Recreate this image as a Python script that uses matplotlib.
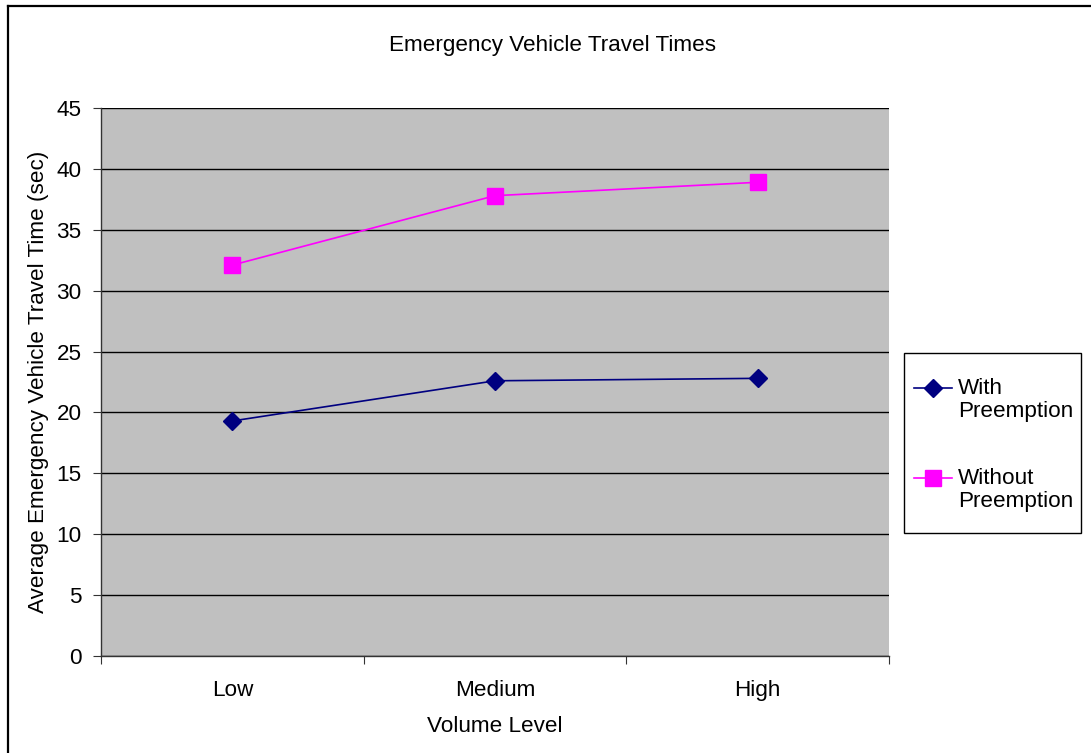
import matplotlib
matplotlib.use("Agg")
import numpy as np
import matplotlib.pyplot as plt
from matplotlib.lines import Line2D
from matplotlib.patches import Rectangle
from matplotlib.legend_handler import HandlerLine2D

categories = ["Low", "Medium", "High"]
with_preemption = [19.3, 22.6, 22.8]
without_preemption = [32.1, 37.8, 38.9]
y_ticks = [0, 5, 10, 15, 20, 25, 30, 35, 40, 45]

plt.rcParams['font.family'] = ['Liberation Sans', 'DejaVu Sans']
FS = 16.2

fig = plt.figure(figsize=(10.91, 7.53), dpi=100)
ax = fig.add_axes([101/1091, 1-656/753, 788/1091, 548/753])
ax.set_facecolor('#C0C0C0')

x = [0.5, 1.5, 2.5]
l1, = ax.plot(x, with_preemption, color='#000080', lw=1.2, marker='D', ms=9.5,
              markeredgecolor='#000080', markerfacecolor='#000080', label='With\nPreemption', zorder=3)
l2, = ax.plot(x, without_preemption, color='#FF00FF', lw=1.2, marker='s', ms=11.5,
              markeredgecolor='#FF00FF', markerfacecolor='#FF00FF', label='Without\nPreemption', zorder=3)

ax.set_xlim(0, 3)
ax.set_ylim(0, 45)
ax.set_yticks(y_ticks)
ax.set_yticklabels([str(v) for v in y_ticks], fontsize=FS)
ax.set_xticks([0, 1, 2, 3])
ax.set_xticklabels([])
ax.set_xticks(x, minor=True)
ax.set_xticklabels(categories, minor=True, fontsize=FS)
ax.tick_params(axis='x', which='minor', length=0, pad=17)
ax.tick_params(axis='x', which='major', length=6, direction='out', color='#333333')
ax.tick_params(axis='y', length=6, direction='out', color='#333333', pad=8)

ax.yaxis.grid(True, color='black', lw=1)
ax.set_axisbelow(True)
for s in ['top', 'right']:
    ax.spines[s].set_visible(False)
for s in ['left', 'bottom']:
    ax.spines[s].set_color('#333333')
    ax.spines[s].set_linewidth(1)

ax.set_xlabel("Volume Level", fontsize=FS, va='center')
ax.xaxis.set_label_coords(0.5, (656-726)/548)
ax.set_ylabel("Average Emergency Vehicle Travel Time (sec)", fontsize=FS, va='center')
ax.yaxis.set_label_coords((39-101)/788, 0.5)

fig.text(553/1091, 1-46/753, "Emergency Vehicle Travel Times", fontsize=FS,
         ha='center', va='center')

# legend frame
fig.add_artist(Rectangle((904/1091, 1-533/753), 177/1091, 180/753, transform=fig.transFigure,
                         facecolor='white', edgecolor='black', lw=1, zorder=1))


def raise_handle(legend_handle, orig_handle):
    # copy the style, then align handle with the first text line (as in the reference)
    legend_handle.update_from(orig_handle)
    yd = np.asarray(legend_handle.get_ydata(), dtype=float)
    legend_handle.set_ydata(yd + 8.5)


hmap = {l1: HandlerLine2D(update_func=raise_handle), l2: HandlerLine2D(update_func=raise_handle)}
leg = fig.legend(handles=[l1, l2], loc='center left', bbox_to_anchor=(914/1091, 1-445/753),
                 frameon=False, fontsize=FS, handler_map=hmap,
                 handlelength=1.67, handletextpad=0.28, labelspacing=2.03,
                 borderpad=0, borderaxespad=0)
for t in leg.get_texts():
    t.set_linespacing(1.15)
leg.set_zorder(2)

# outer chart border (left and top visible)
fig.add_artist(Line2D([8/1091, 8/1091], [0, 1-6/753], transform=fig.transFigure, color='black', lw=1.6))
fig.add_artist(Line2D([8/1091, 1], [1-6/753, 1-6/753], transform=fig.transFigure, color='black', lw=1.6))

fig.savefig("out.png", dpi=100)
